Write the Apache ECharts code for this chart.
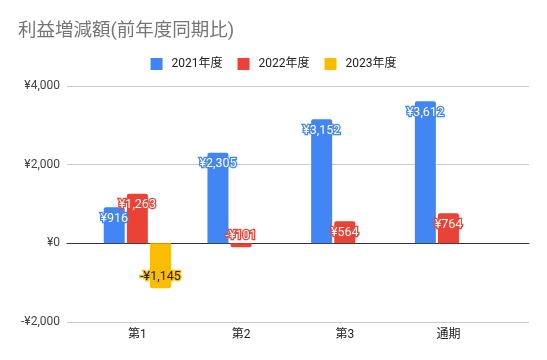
<!DOCTYPE html>
<html><head><meta charset="utf-8">
<script src="https://cdn.jsdelivr.net/npm/echarts@6/dist/echarts.min.js"></script>
<style>html,body{margin:0;padding:0;background:#fff}#c{width:547px;height:360px}</style>
</head><body><div id="c"></div>
<script>
const categories = ['第1', '第2', '第3', '通期'];
const seriesNames = ['2021年度', '2022年度', '2023年度'];
const v2021 = [916, 2305, 3152, 3612];
const v2022 = [1263, -101, 564, 764];
const v2023 = [-1145, null, null, null];
const yTicks = [-2000, 0, 2000, 4000];

const colors = ['#4285F4', '#EA4335', '#FBBC04'];
const labelText = ['#ffffff', '#ffffff', '#222222'];
const font = 'Roboto, "Noto Sans CJK JP", sans-serif';
function yen(v){ const s = '¥' + Math.abs(v).toLocaleString('en-US'); return v < 0 ? '-' + s : s; }

const allVals = [v2021, v2022, v2023];
const chart = echarts.init(document.getElementById('c'));
const yMin = yTicks[0], yMax = yTicks[yTicks.length-1];
const series = allVals.map((arr, i) => ({
  name: seriesNames[i], type: 'bar', xAxisIndex: 1, yAxisIndex: 1,
  barWidth: 21, barGap: '10%',
  itemStyle: { color: colors[i], borderRadius: 2 },
  data: arr.map(v => v === null ? null : {
    value: v,
    itemStyle: { borderRadius: v < 0 ? [0,0,2,2] : [2,2,0,0] },
    label: { position: v < 0 ? 'insideBottom' : 'insideTop' }
  }),
  label: {
    show: true, distance: 5, fontFamily: font, fontSize: 12.5,
    color: labelText[i], textBorderColor: colors[i], textBorderWidth: 2.5,
    formatter: p => yen(p.value)
  }
}));
series.push({ type: 'line', xAxisIndex: 0, yAxisIndex: 0, data: [], silent: true });

chart.setOption({
  animation: false,
  color: colors,
  title: { text: '利益増減額(前年度同期比)', left: 13, top: 17,
    textStyle: { fontFamily: font, fontSize: 18.5, fontWeight: 'normal', color: '#757575' } },
  legend: { data: seriesNames, top: 53, left: 'center', itemWidth: 12, itemHeight: 12, itemGap: 15,
    icon: 'rect', textStyle: { fontFamily: font, fontSize: 12, color: '#222', padding: [0, 0, 0, 4] } },
  grid: [
    { left: 67, right: 18, top: 86, bottom: 38 },
    { left: 85.5, right: 46.7, top: 86, bottom: 38 }
  ],
  xAxis: [
    { gridIndex: 0, type: 'value', min: 0, max: 1, show: true,
      axisLine: { show: true, onZero: true, lineStyle: { color: '#333', width: 1 } },
      axisTick: { show: false }, axisLabel: { show: false }, splitLine: { show: false } },
    { gridIndex: 1, type: 'category', data: categories,
      axisLine: { show: false }, axisTick: { show: false },
      axisLabel: { fontFamily: font, fontSize: 12, color: '#222', margin: 7 } }
  ],
  yAxis: [
    { gridIndex: 0, type: 'value', min: yMin, max: yMax, interval: 2000,
      axisLine: { show: false }, axisTick: { show: false },
      axisLabel: { fontFamily: font, fontSize: 12, color: '#444', margin: 7, formatter: v => yen(v) },
      splitLine: { lineStyle: { color: '#ccc', width: 1 } } },
    { gridIndex: 1, type: 'value', min: yMin, max: yMax, interval: 2000, show: false,
      splitLine: { show: false } }
  ],
  series: series
});
</script></body></html>
